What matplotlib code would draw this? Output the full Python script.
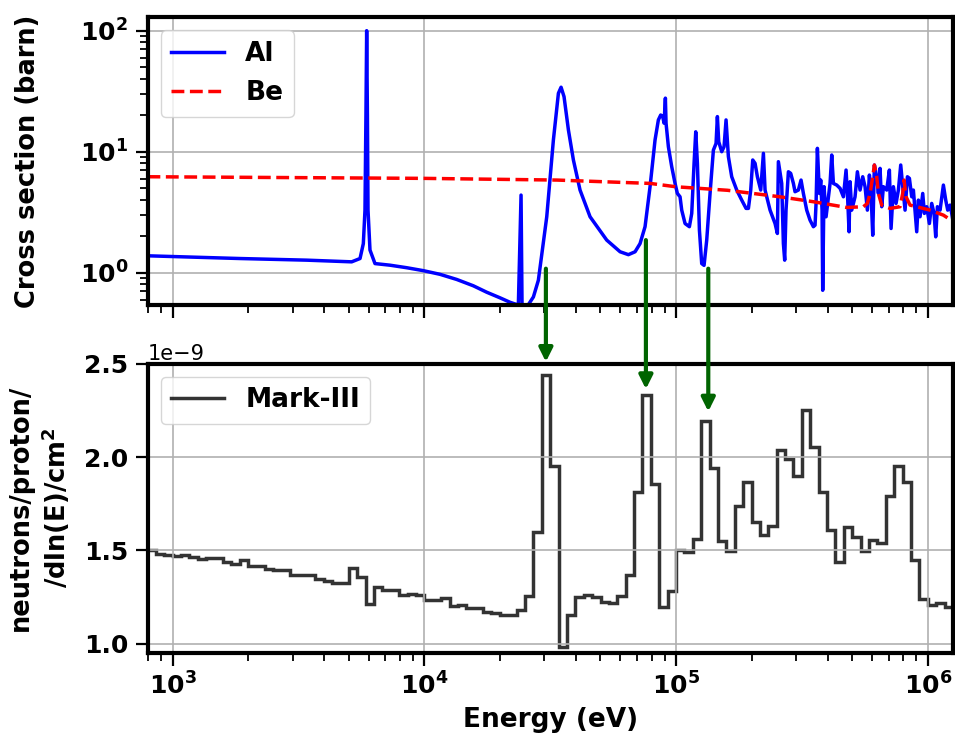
import numpy as np
import matplotlib
matplotlib.use('Agg')
import matplotlib.pyplot as plt

plt.rcParams['font.family'] = ['DejaVu Sans']
plt.rcParams['font.weight'] = 'bold'
plt.rcParams['axes.labelweight'] = 'bold'
plt.rcParams['mathtext.default'] = 'bf'

# ---------------- data ----------------
al_energy = [794, 1851, 3408, 5143, 5551, 5722, 5809, 5860, 5899, 5940, 5972, 6081, 6366,
             7303, 8506, 9906, 11540, 13440, 15650, 17690, 19990, 21890, 23630, 24220, 24440,
             25900, 27120, 28380,
             30640, 32560, 34090, 34930, 35890, 37360, 39100, 41550, 45540, 53040, 59930,
             64670, 68740, 71940, 75310, 78830, 82520, 85070, 86910, 88520, 89610, 90710,
             91260, 93230, 96120, 99100, 101230, 103730, 105330, 108590, 112980, 115430,
             117930, 119740, 121580, 123840, 126470, 129210, 132400, 136490, 140720, 144200,
             145970, 147760, 151870, 155150, 158010, 161430, 166420, 174220, 182390, 189770,
             193870, 198030, 201700, 206060, 210480, 217010, 222370, 225780, 236360, 247390,
             252730, 255050, 262900, 267000, 270200, 273500, 279500, 285500, 292600, 297000,
             306200, 313800, 320600, 330500, 340700, 351300, 356700, 360000, 364400, 371200,
             375700, 380300, 382600, 387300, 394500, 403000, 409200, 415500, 421900, 434900,
             448400, 462300, 473700, 481000, 486900, 491400, 498900, 514300, 525400, 538400,
             551700, 563600, 575700, 586400, 595400, 604600, 613800, 627100, 636700, 646500,
             656500, 666500, 687100, 704100, 715000, 730400, 748400, 764600, 781100, 795500,
             812700, 830300, 845600, 863900, 877000, 904200, 918200, 932200, 955300, 969800,
             990800, 1015300, 1037100, 1059500, 1075800, 1092400, 1119400, 1154000, 1179000,
             1200700, 1226700, 1245500, 1264600, 1284000]
al_sigma = [1.38, 1.31, 1.27, 1.23, 1.31, 1.74, 3.29, 20.0, 100.0, 20.0, 3.29, 1.54, 1.19,
            1.154, 1.10, 1.04, 0.97, 0.88, 0.78, 0.69, 0.62, 0.57, 0.54, 4.38, 0.54,
            0.545, 0.631, 0.867,
            2.90, 12.5, 30.4, 34.1, 28.5, 15.1, 8.54, 4.82, 2.90, 1.86, 1.49,
            1.41, 1.49, 1.74, 2.40, 5.13, 12.5, 18.3, 20.1, 19.5, 17.2, 27.7,
            17.2, 11.0, 7.52, 5.47, 4.52, 4.24, 3.29, 2.55, 2.40, 3.09,
            8.01, 14.6, 8.01, 2.25, 1.19, 1.15, 1.86, 4.52, 10.3, 11.7,
            19.5, 12.1, 10.0, 11.0, 18.3, 9.10, 6.21, 4.82, 3.98, 3.40,
            3.40, 4.82, 8.54, 8.01, 6.21, 4.82, 9.69, 4.82, 3.29, 2.55,
            2.11, 8.27, 5.47, 1.74, 1.27, 3.29, 6.83, 6.62, 5.47, 4.67,
            4.82, 5.83, 4.52, 3.29, 2.72, 2.40, 2.47, 3.74, 10.66, 4.52,
            5.83, 3.29, 0.716, 5.14, 2.90, 4.24, 5.47, 9.39, 5.47, 5.30,
            4.98, 4.24, 7.05, 3.98, 2.18, 5.65, 3.29, 4.24, 6.83, 4.82,
            6.21, 5.14, 3.29, 6.41, 4.52, 2.04, 7.76, 6.21, 4.52, 7.28,
            3.51, 5.14, 4.82, 7.05, 2.32, 5.14, 3.74, 4.82, 7.76, 5.14,
            3.29, 6.21, 6.02, 4.24, 4.82, 2.18, 3.98, 2.90, 4.52, 3.09,
            3.51, 2.55, 3.74, 3.09, 1.98, 3.51, 3.29, 5.30, 3.98,
            3.29, 3.62, 3.09, 2.55, 2.90]

be_energy = [794, 10000, 33600, 78900, 100000, 160000, 258900, 351300, 476600, 555100,
             575700, 589900, 604600, 613800, 627100, 636700, 656500, 708500, 776200,
             795500, 805200, 820100, 850900, 1021000, 1154000, 1264600, 1300000]
be_sigma = [6.21, 6.02, 5.83, 5.47, 5.13, 4.80, 4.24, 3.86, 3.46, 3.51,
            3.74, 4.52, 6.21, 7.76, 6.21, 4.52, 3.62, 3.40, 3.51,
            4.52, 5.83, 4.24, 3.62, 3.29, 2.99, 2.64, 2.55]

# Mark-III spectrum, 30 bins per decade starting at 10^2.9 eV (units of 1e-9)
mark3_flux_e9 = [1.500, 1.481, 1.477, 1.468, 1.473, 1.465, 1.454, 1.457, 1.457, 1.436,
                 1.429, 1.447, 1.414, 1.414, 1.400, 1.395, 1.395, 1.370, 1.370, 1.366,
                 1.348, 1.334, 1.325, 1.327, 1.406, 1.357, 1.211, 1.302, 1.290, 1.290,
                 1.263, 1.266, 1.263, 1.236, 1.236, 1.243, 1.200, 1.206, 1.190, 1.190,
                 1.172, 1.165, 1.156, 1.156, 1.183, 1.257, 1.597, 2.441, 1.950, 0.983,
                 1.156, 1.250, 1.261, 1.249, 1.224, 1.218, 1.257, 1.370, 1.811, 2.334,
                 1.855, 1.197, 1.284, 1.504, 1.489, 1.561, 2.191, 1.941, 1.548, 1.495,
                 1.736, 1.864, 1.650, 1.584, 1.629, 2.039, 1.989, 1.896, 2.253, 2.053,
                 1.812, 1.611, 1.436, 1.623, 1.572, 1.495, 1.554, 1.539, 1.793, 1.950,
                 1.868, 1.447, 1.240, 1.209, 1.218, 1.197, 1.140]
bin_edges = 10 ** (2.9 + np.arange(len(mark3_flux_e9) + 1) / 30.0)

arrow_energy = [3.04e4, 7.59e4, 1.343e5]
arrow_top_sigma = [1.08, 1.86, 1.08]
arrow_tip_flux = [2.51e-9, 2.364e-9, 2.244e-9]

# ---------------- figure ----------------
W, H = 955, 733
fig = plt.figure(figsize=(W / 100, H / 100), dpi=100)
ax1 = fig.add_axes([147.5 / W, (H - 305.3) / H, 805.4 / W, 288.0 / H])
ax2 = fig.add_axes([147.5 / W, (H - 652.5) / H, 805.4 / W, 288.8 / H], sharex=ax1)

ax1.plot(al_energy, al_sigma, color='blue', lw=2.5, label='Al')
ax1.plot(be_energy, be_sigma, color='red', lw=2.5, ls='--', label='Be')
ax1.set_xscale('log')
ax1.set_yscale('log')
ax1.set_xlim(10 ** 2.9, 10 ** 6.1)
ax1.set_ylim(0.538, 129)
ax1.set_ylabel('Cross section (barn)', fontsize=18.5)
ax1.legend(loc='upper left', fontsize=19)
ax1.tick_params(labelbottom=False)

flux = np.array(mark3_flux_e9) * 1e-9
ax2.stairs(flux, bin_edges, baseline=None, color='k', alpha=0.8, lw=2.5, label='Mark-III')
ax2.set_ylim(0.953e-9, 2.5e-9)
ax2.set_yticks([1.0e-9, 1.5e-9, 2.0e-9, 2.5e-9])
ax2.set_ylabel('neutrons/proton/\n/dln(E)/cm$^2$', fontsize=18.5)
ax2.set_xlabel('Energy (eV)', fontsize=19, labelpad=6)
ax2.legend(loc='upper left', fontsize=19)
ot = ax2.yaxis.get_offset_text()
ot.set_fontsize(15)
ot.set_fontweight('normal')

for ax in (ax1, ax2):
    ax.grid(True, which='major', color='#b0b0b0', lw=1.2)
    ax.tick_params(which='major', length=9, width=1.6, labelsize=18, pad=5)
    ax.tick_params(which='minor', length=5.5, width=1.3)
    for s in ax.spines.values():
        s.set_linewidth(3)

for e, ytop, ytip in zip(arrow_energy, arrow_top_sigma, arrow_tip_flux):
    ax2.annotate('', xy=(e, ytip), xycoords='data', xytext=(e, ytop),
                 textcoords=ax1.transData, annotation_clip=False,
                 arrowprops=dict(arrowstyle='-|>', color='#006400', lw=3,
                                 mutation_scale=20, shrinkA=0, shrinkB=0))

ax1.yaxis.set_label_coords(-0.132, 0.5)
ax2.yaxis.set_label_coords(-0.094, 0.5)

fig.savefig('out.png', dpi=100)
